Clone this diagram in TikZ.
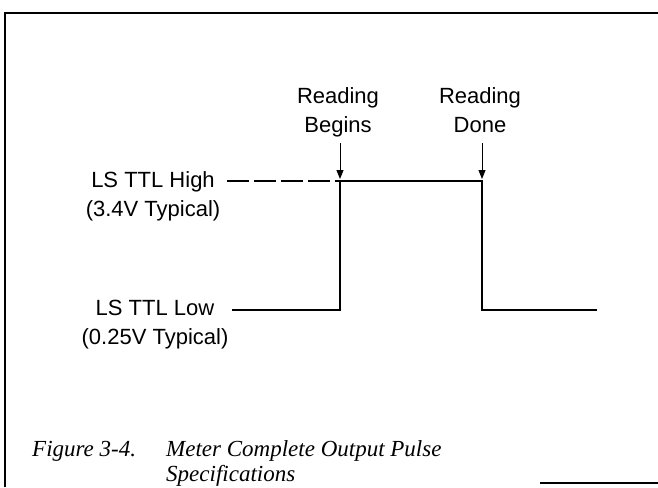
\documentclass[tikz,border=0pt]{standalone}
\usepackage{fontspec}
\usepackage{tikz}
\usetikzlibrary{arrows.meta, positioning}
\newfontfamily\helv{Liberation Sans}
\newfontfamily\capfont{Liberation Serif}

\begin{document}
\begin{tikzpicture}[
  x=1pt, y=-1pt,
  tlab/.style={align=center, inner sep=0pt, font=\helv\fontsize{22}{29}\selectfont},
  capt/.style={anchor=base west, inner sep=0pt, font=\capfont\itshape\fontsize{23}{25}\selectfont},
  wave/.style={line width=1.6pt, line cap=rect},
  lvl/.style={line width=1.4pt, dash pattern=on 22pt off 5pt},
  evt/.style={line width=1pt, -{Triangle[length=9pt, width=7pt]}, shorten >=2pt},
  frm/.style={line width=1.8pt}
]
\useasboundingbox (0,0) rectangle (658,487);
% frame
\draw[frm] (5,487) -- (5,13) -- (658,13);
\draw[frm] (540,483) -- (658,483);

% events
\node[tlab, anchor=north] (rbeg) at (338,87) {Reading\\Begins};
\node[tlab, anchor=north] (rdone) at (480,87) {Reading\\Done};

% levels
\node[tlab] (hi) at (153,196) {LS TTL High\\(3.4V Typical)};
\node[tlab] (lo) at (155,325) {LS TTL Low\\(0.25V Typical)};

\coordinate (hiL) at (227,181);
\coordinate (lowL) at (233,310);
\coordinate (riseT) at (340,181);
\coordinate (riseB) at (340,310);
\coordinate (fallT) at (482,181);
\coordinate (fallB) at (482,310);
\coordinate (lowR) at (596,310);
\coordinate (begTop) at (340,143);
\coordinate (doneTop) at (482,143);

% pulse
\draw[lvl] (hiL) -- (riseT);
\draw[wave] (lowL) -- (riseB) -- (riseT) -- (fallT) -- (fallB) -- (lowR);

% markers
\draw[evt] (begTop) -- (riseT);
\draw[evt] (doneTop) -- (fallT);

% caption
\node[capt] (fig) at (32,456) {Figure 3-4.};
\node[capt] (cap1) at (166,456) {Meter Complete Output Pulse};
\node[capt] (cap2) at (166,481) {Specifications};
\end{tikzpicture}
\end{document}
